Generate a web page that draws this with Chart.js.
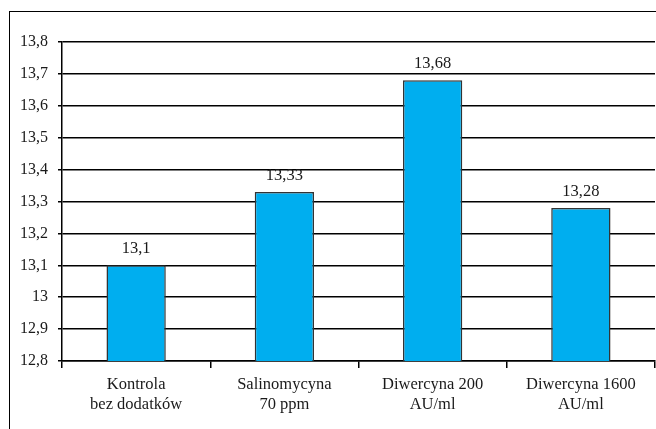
<!DOCTYPE html>
<html>
<head>
<meta charset="utf-8">
<script src="https://cdn.jsdelivr.net/npm/chart.js@4/dist/chart.umd.min.js"></script>
<style>
  html, body { margin: 0; padding: 0; background: #fff; }
  #wrap { width: 656px; height: 429px; position: relative; }
</style>
</head>
<body>
<div id="wrap"><canvas id="myChart"></canvas></div>
<script>
const categories = [
  ['Kontrola', 'bez dodatków'],
  ['Salinomycyna', '70 ppm'],
  ['Diwercyna 200', 'AU/ml'],
  ['Diwercyna 1600', 'AU/ml']
];
const values = [13.1, 13.33, 13.68, 13.28];

const serif = "'Liberation Serif', 'Times New Roman', serif";
const comma = v => String(Number(v.toFixed(2))).replace('.', ',');

// outer frame of the original figure
const framePlugin = {
  id: 'frame',
  beforeDraw(chart) {
    const ctx = chart.ctx;
    ctx.save();
    ctx.fillStyle = '#fff';
    ctx.fillRect(0, 0, chart.width, chart.height);
    ctx.strokeStyle = '#000';
    ctx.lineWidth = 1;
    ctx.strokeRect(9.5, 11.5, 700, 500);
    ctx.restore();
  }
};

// value labels above bars
const valueLabels = {
  id: 'valueLabels',
  afterDatasetsDraw(chart) {
    const ctx = chart.ctx;
    ctx.save();
    ctx.font = '16.5px ' + serif;
    ctx.fillStyle = '#1a1a1a';
    ctx.textAlign = 'center';
    ctx.textBaseline = 'alphabetic';
    chart.getDatasetMeta(0).data.forEach((bar, i) => {
      ctx.fillText(comma(values[i]), bar.x, bar.y - 12);
    });
    ctx.restore();
  }
};

const config = {
  type: 'bar',
  data: {
    labels: categories,
    datasets: [{
      data: values,
      backgroundColor: '#00AEEF',
      borderColor: '#333',
      borderWidth: 1.5,
      barPercentage: 0.4,
      categoryPercentage: 1
    }]
  },
  options: {
    responsive: true,
    maintainAspectRatio: false,
    animation: false,
    layout: { padding: { top: 42, right: 1, left: 0, bottom: 0 } },
    plugins: {
      legend: { display: false },
      tooltip: { enabled: false }
    },
    scales: {
      x: {
        afterFit: scale => { scale.height = 68; },
        grid: {
          offset: true,
          drawOnChartArea: false,
          color: '#000',
          lineWidth: 1.5,
          tickLength: 7
        },
        border: { display: true, color: '#000', width: 1.5 },
        ticks: {
          color: '#1a1a1a',
          padding: 7,
          maxRotation: 0,
          font: { family: serif, size: 16.5, lineHeight: 1.2 }
        }
      },
      y: {
        min: 12.8,
        max: 13.8,
        afterFit: scale => { scale.width = 62; },
        grid: {
          color: '#000',
          lineWidth: 1.5,
          tickLength: 4
        },
        border: { display: true, color: '#000', width: 1.5 },
        ticks: {
          stepSize: 0.1,
          color: '#1a1a1a',
          padding: 10,
          font: { family: serif, size: 16 },
          callback: v => comma(v)
        }
      }
    }
  },
  plugins: [framePlugin, valueLabels]
};

const myChart = new Chart(document.getElementById('myChart'), config);
</script>
</body>
</html>
